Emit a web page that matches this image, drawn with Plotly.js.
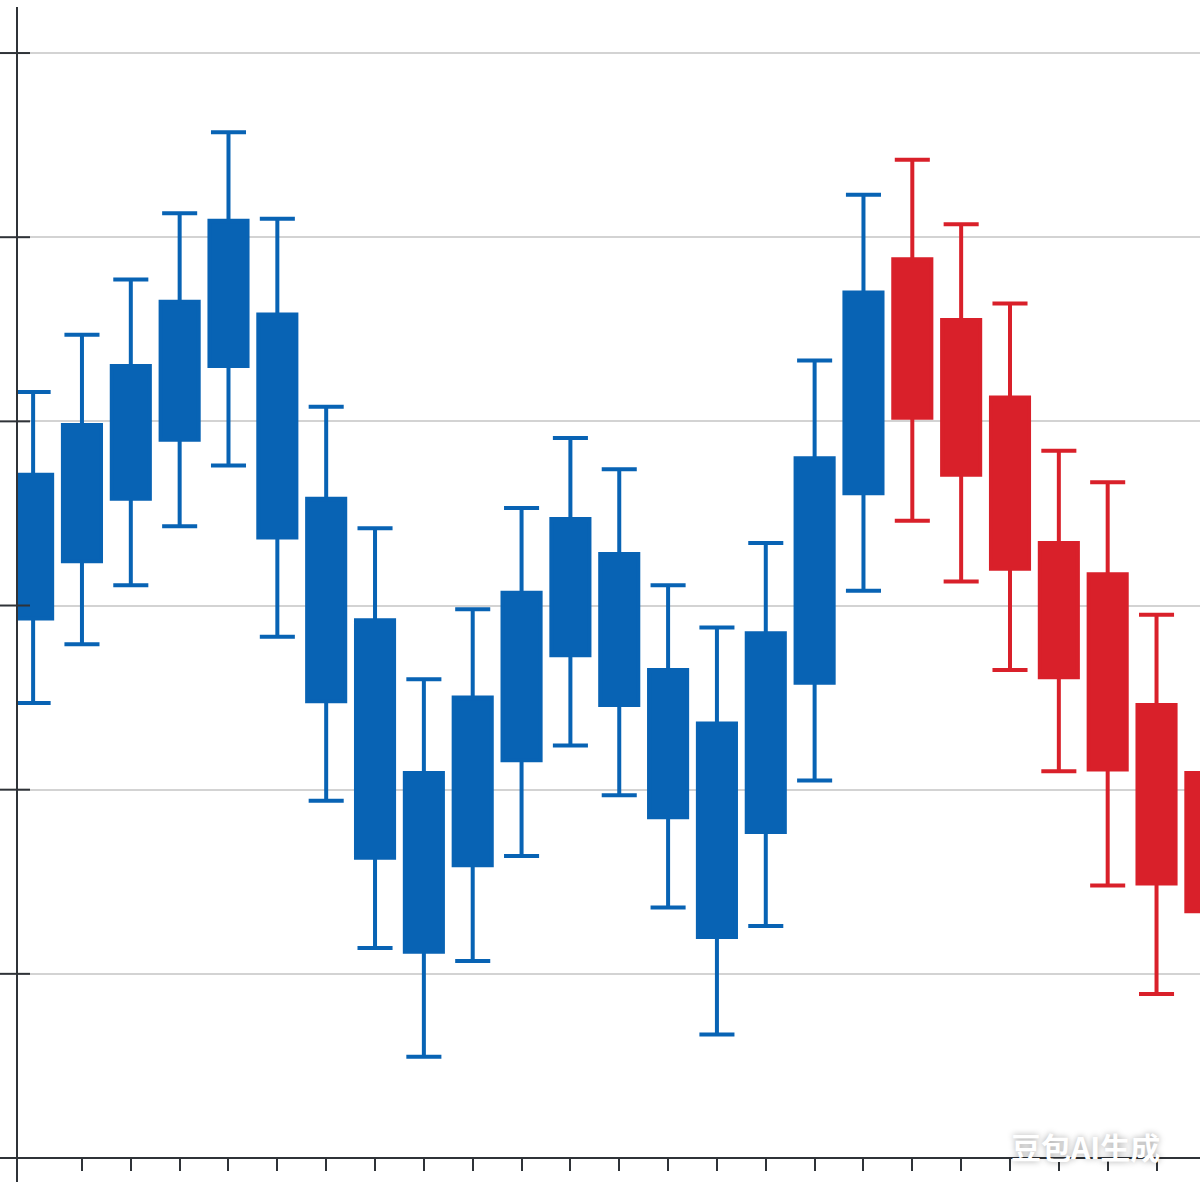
<!DOCTYPE html>
<html>
<head>
<meta charset="utf-8">
<script src="https://cdn.plot.ly/plotly-3.0.1.min.js"></script>
<style>html,body{margin:0;padding:0;background:#fff;}#chart{width:1200px;height:1200px;}</style>
</head>
<body>
<div id="chart"></div>
<script>
// Period index of each candle
const blueX = [0,1,2,3,4,5,6,7,8,9,10,11,12,13,14,15,16,17];
const redX  = [18,19,20,21,22,23,24];

// Blue candles: whisker high, box top, box bottom, whisker low
const blueHigh   = [131.6,134.7,137.7,141.3,145.7,141.0,130.8,124.2,116.0,119.8,125.3,129.1,127.4,121.1,118.8,123.4,133.3,142.3];
const blueTop    = [127.1,129.8,133.0,136.5,140.9,135.8,125.8,119.2,110.9,115.0,120.7,124.7,122.8,116.5,113.6,118.5,128.0,137.0];
const blueBottom = [119.3,122.4,125.8,129.0,133.0,123.7,114.8,106.3,101.2,105.9,111.6,117.3,114.6,108.5,102.0,107.7,115.8,126.1];
const blueLow    = [114.7,117.9,121.1,124.3,127.6,118.3,109.4,101.4, 95.5,100.7,106.4,112.4,109.7,103.6, 96.7,102.6,110.5,120.8];

// Red candles (last one is cut by the right edge; its whiskers are not visible)
const redHigh   = [144.2,140.7,136.4,128.4,126.7,119.5,110.9];
const redTop    = [138.8,135.5,131.3,123.4,121.7,114.6,110.9];
const redBottom = [130.2,127.1,122.0,116.1,111.1,104.9,103.4];
const redLow    = [124.6,121.3,116.5,111.0,104.8, 98.9,103.4];

// Axis ticks
const yTicks = [100,110,120,130,140,150];
const xTicks = [1,2,3,4,5,6,7,8,9,10,11,12,13,14,15,16,17,18,19,20,21,22,23];

const BLUE = '#0863b4';
const RED = '#d9202a';
const AXIS = '#2f3338';

function candleTrace(x, hi, top, bot, lo, color) {
  return {
    type: 'box',
    x: x,
    q1: bot,
    median: top,
    q3: top,
    lowerfence: lo,
    upperfence: hi,
    fillcolor: color,
    line: {color: color, width: 4},
    width: 0.78,
    whiskerwidth: 0.92,
    boxpoints: false,
    hoverinfo: 'skip',
    showlegend: false
  };
}

const data = [
  candleTrace(blueX, blueHigh, blueTop, blueBottom, blueLow, BLUE),
  candleTrace(redX, redHigh, redTop, redBottom, redLow, RED)
];

const plotW = 1183, plotH = 1151;
const shapes = [];
// y-axis tick marks crossing the axis line
yTicks.forEach(v => {
  shapes.push({type:'line', xref:'paper', yref:'y', x0:-17/plotW, x1:13/plotW, y0:v, y1:v,
               line:{color:AXIS, width:2}});
});
// x axis line (extends left of y axis)
shapes.push({type:'line', xref:'paper', yref:'paper', x0:-17/plotW, x1:1, y0:0, y1:0, line:{color:AXIS, width:2}});
// y axis line (extends below x axis)
shapes.push({type:'line', xref:'paper', yref:'paper', x0:0, x1:0, y0:-24/plotH, y1:1, line:{color:AXIS, width:2}});

const layout = {
  width: 1200,
  height: 1200,
  margin: {l: 17, r: 0, t: 7, b: 42},
  paper_bgcolor: '#ffffff',
  plot_bgcolor: '#ffffff',
  boxmode: 'overlay',
  showlegend: false,
  xaxis: {
    range: [-0.33, 23.89],
    tickmode: 'array',
    tickvals: xTicks,
    showticklabels: false,
    ticks: 'outside',
    ticklen: 12,
    tickwidth: 2,
    tickcolor: AXIS,
    showgrid: false,
    zeroline: false,
    showline: false
  },
  yaxis: {
    range: [90, 152.5],
    tickmode: 'array',
    tickvals: yTicks,
    showticklabels: false,
    ticks: '',
    showgrid: true,
    gridcolor: '#d3d3d3',
    gridwidth: 2,
    zeroline: false,
    showline: false
  },
  shapes: shapes,
  annotations: [{
    xref: 'paper', yref: 'paper',
    x: (1085 - 17) / plotW, y: (1158 - 1146) / plotH,
    xanchor: 'center', yanchor: 'middle',
    text: '<b>豆包AI生成</b>',
    showarrow: false,
    font: {family: 'Noto Sans CJK SC, sans-serif', size: 30, color: '#ffffff',
           shadow: '0px 0px 6px rgba(0,0,0,0.35)'}
  }]
};

Plotly.newPlot('chart', data, layout, {staticPlot: true, displayModeBar: false});
</script>
</body>
</html>
